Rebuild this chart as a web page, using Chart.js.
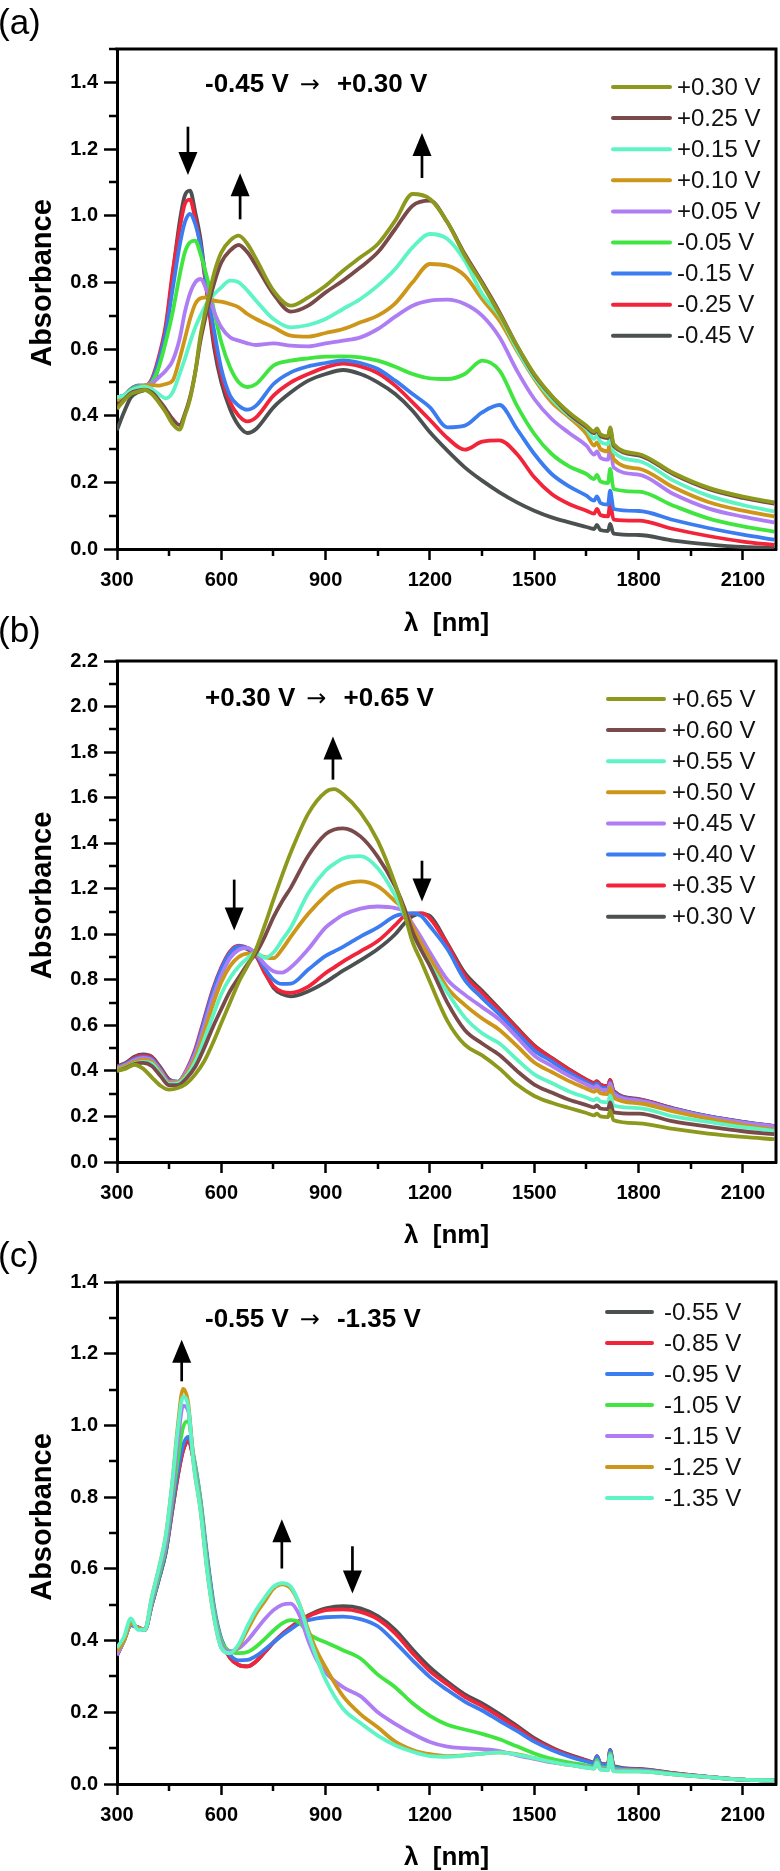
<!DOCTYPE html>
<html><head><meta charset="utf-8">
<script src="https://cdn.jsdelivr.net/npm/chart.js@4.4.1/dist/chart.umd.min.js"></script>
<style>
html,body{margin:0;padding:0;background:#fff;width:780px;height:1871px;overflow:hidden;}
canvas{position:absolute;left:0;}
</style></head><body>
<canvas id="ca" width="780" height="645" style="top:0px"></canvas>
<canvas id="cb" width="780" height="646" style="top:612px"></canvas>
<canvas id="cc" width="780" height="638" style="top:1233px"></canvas>
<script>
// ---------- shared ticks ----------
const xTickValues = [300, 600, 900, 1200, 1500, 1800, 2100];
const xMinorTicks = [450, 750, 1050, 1350, 1650, 1950];
const yTicksA = [0, 0.2, 0.4, 0.6, 0.8, 1.0, 1.2, 1.4];
const yMinorA = [0.1, 0.3, 0.5, 0.7, 0.9, 1.1, 1.3, 1.5];
const yTicksB = [0, 0.2, 0.4, 0.6, 0.8, 1.0, 1.2, 1.4, 1.6, 1.8, 2.0, 2.2];
const yMinorB = [0.1, 0.3, 0.5, 0.7, 0.9, 1.1, 1.3, 1.5, 1.7, 1.9, 2.1];
const yTicksC = [0, 0.2, 0.4, 0.6, 0.8, 1.0, 1.2, 1.4];
const yMinorC = [0.1, 0.3, 0.5, 0.7, 0.9, 1.1, 1.3];

// ---------- panel (a) ----------
const nmA = [300,320,340,360,380,400,420,440,460,480,495,510,525,540,560,580,600,625,650,675,700,750,800,850,900,950,1000,1050,1100,1150,1200,1250,1300,1350,1400,1450,1500,1550,1600,1650,1672,1680,1690,1712,1718,1728,1800,1900,2000,2100,2190];
const a_p030 = [.42,.445,.465,.472,.477,.465,.44,.41,.375,.358, .40,.45,.53,.64, .74,.83,.89, .925,.94,.915,.87, .775,.73,.755,.79,.835,.875,.915,.985,1.065,1.05,.98,.88,.795,.705,.61,.525,.46,.41,.37, .352,.362,.344,.338,.365,.315, .285,.228,.184,.157,.14];
const a_p025 = [.43,.448,.468,.475,.478,.47,.448,.42,.39,.372, .405,.455,.53,.625, .72,.80,.86, .895,.912,.89,.85, .765,.712,.73,.77,.805,.845,.89,.96,1.03,1.045,.98,.885,.80,.71,.61,.522,.458,.405,.365, .347,.357,.339,.333,.36,.31, .281,.224,.18,.153,.136];
const a_p015 = [.455,.46,.475,.483,.487,.48,.465,.452,.47,.525, .57,.62,.665,.70, .74,.765,.785, .805,.80,.775,.745, .69,.665,.672,.69,.72,.75,.79,.84,.905,.945,.93,.865,.765,.70,.60,.515,.45,.40,.36, .33,.34,.322,.315,.345,.292, .264,.205,.16,.132,.113];
const a_p010 = [.445,.452,.47,.482,.49,.492,.49,.495,.505,.57, .63,.69,.735,.752, .755,.745,.742, .735,.725,.705,.69, .665,.64,.637,.648,.66,.68,.70,.737,.80,.855,.85,.82,.75,.685,.595,.51,.44,.395,.345, .31,.32,.30,.293,.33,.27, .241,.185,.141,.115,.098];
const a_p005 = [.452,.458,.475,.485,.49,.497,.515,.535,.565,.63, .71,.767,.80,.81, .77,.71,.665, .635,.625,.617,.612, .617,.61,.608,.617,.625,.635,.66,.697,.73,.745,.748,.735,.70,.635,.535,.45,.39,.348,.31, .283,.293,.274,.268,.305,.245, .223,.165,.122,.097,.08];
const a_m005 = [.455,.46,.478,.488,.49,.50,.545,.62,.71,.82, .89,.92,.925,.885, .81,.71,.62, .545,.50,.486,.495, .55,.565,.572,.577,.578,.575,.565,.547,.525,.512,.51,.525,.565,.535,.43,.345,.285,.248,.225, .21,.222,.203,.198,.24,.18, .172,.13,.092,.068,.052];
const a_m015 = [.455,.46,.48,.49,.49,.505,.565,.65,.78,.91, .98,1.005,.975,.91, .78,.65,.54, .46,.43,.418,.43, .495,.53,.548,.558,.566,.558,.54,.505,.465,.425,.365,.37,.41,.432,.36,.285,.225,.188,.16, .145,.158,.138,.133,.175,.12, .114,.087,.063,.043,.028];
const a_m025 = [.455,.46,.48,.49,.49,.51,.575,.67,.83,.96, 1.035,1.048,.99,.91, .76,.62,.52, .44,.40,.383,.395, .46,.50,.525,.545,.556,.548,.528,.49,.44,.387,.333,.298,.322,.326,.285,.215,.165,.135,.115, .106,.12,.102,.098,.135,.088, .085,.06,.039,.022,.012];
const a_m045 = [.357,.41,.455,.47,.477,.49,.55,.655,.82,.98, 1.06,1.075,1.01,.93, .76,.60,.50, .42,.37,.348,.36, .425,.47,.505,.525,.537,.525,.50,.465,.415,.35,.295,.245,.205,.17,.14,.115,.095,.08,.066, .06,.072,.057,.054,.075,.046, .042,.025,.014,.006,.003];
const labelsA = ['+0.30 V','+0.25 V','+0.15 V','+0.10 V','+0.05 V','-0.05 V','-0.15 V','-0.25 V','-0.45 V'];
const arrowsA = [[504, 1.267, 1.122], [654, 0.989, 1.127], [1177, 1.113, 1.248]];
const noteA = ['-0.45 V', '\u2192', '+0.30 V', 553, 1.392];

// ---------- panel (b) ----------
const nmB = [300,325,350,375,400,425,450,475,500,525,550,575,600,625,650,675,700,725,750,775,800,850,900,925,950,1000,1050,1100,1125,1150,1175,1200,1250,1300,1350,1400,1450,1500,1550,1600,1650,1672,1680,1690,1712,1718,1728,1800,1900,2000,2100,2190];
const b_p065 = [.40,.41,.427,.41,.372,.335,.318,.325,.345,.385,.44,.52,.61,.70,.79,.86,.935,1.04,1.152,1.26,1.36, 1.53,1.625,1.637,1.615,1.535,1.41,1.22, 1.1,.965,.88,.79, .62,.515,.468,.41,.34,.29,.26,.237,.215, .205,.212,.20,.197,.225,.183, .17,.145,.125,.11,.10];
const b_p060 = [.40,.413,.43,.435,.422,.378,.337,.338,.368,.418,.498,.59,.672,.75,.81,.868,.918,.99,1.075,1.145,1.205, 1.345,1.44,1.46,1.465,1.43,1.34,1.21, 1.12,1.01,.93,.86, .70,.58,.52,.47,.40,.34,.305,.273,.25, .24,.248,.235,.232,.262,.218, .212,.178,.155,.135,.122];
const b_p055 = [.402,.415,.432,.44,.432,.385,.342,.345,.378,.44,.535,.638,.738,.808,.858,.895,.918,.897,.92,.975,1.03, 1.18,1.28,1.31,1.333,1.343,1.29,1.17, 1.09,1.0,.93,.865, .745,.635,.565,.52,.45,.385,.347,.31,.283, .271,.279,.266,.262,.292,.248, .237,.20,.176,.153,.137];
const b_p050 = [.408,.422,.44,.448,.44,.392,.347,.35,.388,.458,.568,.688,.79,.86,.90,.915,.912,.90,.895,.935,.99, 1.09,1.17,1.20,1.218,1.232,1.21,1.145, 1.11,1.035,.96,.895, .765,.69,.63,.58,.51,.437,.395,.355,.322, .308,.316,.302,.298,.328,.283, .258,.222,.19,.163,.142];
const b_p045 = [.412,.427,.447,.457,.447,.40,.352,.352,.398,.475,.595,.72,.82,.895,.932,.94,.915,.868,.838,.832,.855, .935,1.03,1.06,1.085,1.113,1.122,1.115, 1.10,1.045,.985,.92, .80,.735,.68,.625,.548,.468,.422,.378,.34, .326,.334,.319,.315,.345,.30, .27,.231,.198,.173,.156];
const b_p040 = [.415,.43,.452,.462,.452,.405,.355,.353,.40,.485,.615,.745,.848,.918,.947,.94,.91,.85,.80,.782,.783, .845,.905,.925,.945,.99,1.03,1.08, 1.09,1.093,1.08,1.035, .935,.80,.72,.648,.568,.49,.442,.392,.35, .336,.344,.329,.323,.35,.305, .272,.233,.20,.175,.157];
const b_p035 = [.418,.432,.458,.468,.458,.41,.358,.352,.405,.495,.625,.755,.855,.925,.95,.94,.905,.83,.772,.748,.743, .77,.83,.855,.88,.925,.97,1.04, 1.078,1.09,1.093,1.07, .955,.82,.742,.665,.585,.508,.455,.405,.36, .345,.353,.338,.332,.36,.31, .275,.235,.20,.175,.157];
const b_p030 = [.42,.435,.462,.472,.462,.415,.362,.352,.395,.475,.595,.725,.835,.91,.945,.935,.905,.835,.765,.737,.727, .75,.79,.815,.84,.885,.935,1.0, 1.045,1.08,1.09,1.08, .96,.83,.752,.672,.59,.512,.457,.407,.362, .347,.355,.34,.333,.36,.312, .276,.236,.201,.176,.158];
const labelsB = ['+0.65 V','+0.60 V','+0.55 V','+0.50 V','+0.45 V','+0.40 V','+0.35 V','+0.30 V'];
const arrowsB = [[637, 1.24, 1.017], [921, 1.679, 1.869], [1177, 1.323, 1.144]];
const noteB = ['+0.30 V', '\u2192', '+0.65 V', 553, 2.035];

// ---------- panel (c) ----------
const nmC = [300,320,340,360,380,400,420,440,460,475,490,505,520,540,560,580,600,625,650,675,700,725,750,775,800,825,850,875,900,950,1000,1050,1100,1150,1200,1250,1300,1350,1400,1450,1500,1550,1600,1650,1672,1680,1690,1712,1718,1728,1800,1900,2000,2100,2190];
const c_m055 = [.358,.40,.443,.437,.43,.50,.57,.645,.77, .86,.93,.955,.905, .78,.62,.48,.40, .352,.332,.328,.342,.368,.395,.418,.437,.455,.47,.482,.49, .496,.49,.468,.43,.375,.325,.285,.25,.225,.195,.162,.128,.102,.082,.066, .06,.078,.058,.055,.095,.05, .042,.03,.02,.012,.01];
const c_m085 = [.36,.40,.443,.437,.43,.50,.57,.645,.77, .86,.93,.958,.905, .78,.62,.48,.40, .352,.332,.328,.342,.368,.395,.418,.437,.455,.468,.478,.485, .487,.48,.46,.42,.365,.315,.278,.243,.218,.188,.157,.124,.10,.08,.065, .059,.077,.057,.054,.094,.049, .041,.03,.02,.012,.01];
const c_m095 = [.36,.40,.443,.437,.43,.50,.57,.648,.78, .875,.945,.968,.915, .795,.63,.49,.405, .36,.345,.346,.357,.375,.395,.415,.432,.448,.457,.462,.465, .467,.46,.44,.395,.345,.298,.262,.23,.205,.176,.148,.118,.095,.077,.063, .058,.076,.056,.053,.093,.048, .04,.029,.02,.012,.01];
const c_m105 = [.365,.40,.447,.435,.43,.505,.578,.66,.80, .905,.995,1.012,.915, .79,.615,.48,.40, .37,.365,.368,.383,.405,.428,.448,.457,.45,.42,.405,.395, .373,.35,.305,.27,.225,.19,.165,.152,.14,.125,.105,.085,.07,.06,.052, .049,.067,.047,.045,.085,.042, .038,.028,.019,.012,.01];
const c_m115 = [.36,.40,.448,.435,.43,.51,.59,.67,.82, .955,1.055,1.04,.905, .775,.60,.47,.39, .37,.378,.40,.43,.46,.485,.50,.503,.47,.40,.345,.31, .27,.245,.20,.168,.14,.117,.104,.10,.097,.092,.08,.07,.06,.054,.048, .046,.063,.044,.042,.082,.039, .037,.027,.019,.012,.01];
const c_m125 = [.37,.40,.45,.435,.43,.52,.60,.69,.85, 1.0,1.102,1.06,.895, .765,.59,.46,.38, .365,.385,.43,.475,.51,.545,.557,.545,.50,.43,.37,.325, .245,.195,.158,.118,.095,.083,.078,.08,.085,.088,.083,.072,.062,.053,.046, .043,.06,.041,.039,.08,.036, .035,.027,.019,.012,.01];
const c_m135 = [.38,.41,.462,.43,.43,.52,.60,.69,.85, .99,1.08,1.05,.895, .765,.59,.46,.38, .365,.39,.44,.485,.52,.55,.56,.55,.50,.42,.35,.29, .21,.17,.135,.108,.09,.078,.076,.08,.085,.088,.082,.072,.062,.053,.046, .043,.06,.041,.039,.08,.036, .035,.027,.019,.012,.01];
const labelsC = ['-0.55 V','-0.85 V','-0.95 V','-1.05 V','-1.15 V','-1.25 V','-1.35 V'];
const arrowsC = [[486, 1.123, 1.239], [774, 0.601, 0.738], [977, 0.663, 0.531]];
const noteC = ['-0.55 V', '\u2192', '-1.35 V', 553, 1.295];

// ---------- styles ----------
const COL = {olive:'#8c991c', brown:'#7a4a4a', aqua:'#5ef4c6', gold:'#cd9619', purple:'#ae7df3', green:'#40e540', blue:'#3b7cf0', red:'#f1243a', gray:'#4b5050'};
const FONT = "'Liberation Sans', Arial, Helvetica, sans-serif";

const decoPlugin = {
  id: 'deco',
  afterDatasetsDraw(chart, args, o) {
    const {ctx, chartArea: ca} = chart;
    const xs = chart.scales.x, ys = chart.scales.y;
    ctx.save();
    ctx.strokeStyle = '#000'; ctx.fillStyle = '#000';
    // minor ticks
    ctx.lineWidth = 2.5;
    ctx.beginPath();
    o.xMinor.forEach(v => { const p = Math.round(xs.getPixelForValue(v)); ctx.moveTo(p, ca.bottom); ctx.lineTo(p, ca.bottom + 7); });
    o.yMinor.forEach(v => { if (v > ys.max) return; const p = Math.round(ys.getPixelForValue(v)); ctx.moveTo(ca.left, p); ctx.lineTo(ca.left - 8, p); });
    ctx.stroke();
    // top / right frame
    ctx.lineWidth = 3;
    ctx.beginPath();
    ctx.moveTo(ca.left - 1.5, ca.top); ctx.lineTo(ca.right, ca.top); ctx.lineTo(ca.right, ca.bottom + 1.5);
    ctx.stroke();
    // arrows
    o.arrows.forEach(([xv, from, to]) => {
      const px = xs.getPixelForValue(xv), y0 = ys.getPixelForValue(from), y1 = ys.getPixelForValue(to);
      const dir = y1 > y0 ? 1 : -1, hl = 23, hw = 9.5;
      ctx.lineWidth = 2.7;
      ctx.beginPath(); ctx.moveTo(px, y0); ctx.lineTo(px, y1 - dir * (hl - 2)); ctx.stroke();
      ctx.beginPath(); ctx.moveTo(px, y1); ctx.lineTo(px - hw, y1 - dir * hl); ctx.lineTo(px + hw, y1 - dir * hl); ctx.closePath(); ctx.fill();
    });
    // annotation  (text, arrow glyph, text)
    const [t1, arr, t2, nx, ny] = o.note;
    let tx = xs.getPixelForValue(nx);
    const ty = ys.getPixelForValue(ny);
    ctx.textAlign = 'left'; ctx.textBaseline = 'middle';
    ctx.font = 'bold 26px ' + FONT;
    ctx.fillText(t1, tx, ty);
    tx += ctx.measureText(t1).width + 11;
    ctx.font = "24px 'DejaVu Sans', sans-serif";
    ctx.fillText(arr, tx, ty + 1);
    tx += ctx.measureText(arr).width + 17;
    ctx.font = 'bold 26px ' + FONT;
    ctx.fillText(t2, tx, ty);
    // legend
    const L = o.legend;
    ctx.font = '24px ' + FONT;
    chart.data.datasets.forEach((ds, i) => {
      const yy = ca.top + L.y0 + i * L.dy;
      ctx.strokeStyle = ds.borderColor; ctx.lineWidth = 4; ctx.lineCap = 'round';
      ctx.beginPath(); ctx.moveTo(L.x0, yy); ctx.lineTo(L.x1, yy); ctx.stroke();
      ctx.fillStyle = '#111';
      ctx.fillText(ds.label, L.tx, yy + 1);
    });
    ctx.lineCap = 'butt';
    // axis titles
    ctx.fillStyle = '#000';
    ctx.textAlign = 'center';
    ctx.font = 'bold 26px ' + FONT;
    ctx.fillText('\u03bb  [nm]', (ca.left + ca.right) / 2, ca.bottom + o.xTitleOff);
    ctx.save();
    ctx.translate(43, (ca.top + ca.bottom) / 2 - 16);
    ctx.rotate(-Math.PI / 2);
    ctx.font = 'bold 29px ' + FONT;
    ctx.fillText('Absorbance', 0, 0);
    ctx.restore();
    // panel tag
    ctx.textAlign = 'left';
    ctx.font = '35px ' + FONT;
    ctx.fillText(o.tag, -2, o.tagY);
    ctx.restore();
  }
};

function makePanel(id, nm, series, labels, colors, orders, ymax, yTicks, yMinor, xh, extra) {
  return new Chart(document.getElementById(id), {
    type: 'line',
    data: {
      datasets: series.map((vals, i) => ({
        label: labels[i],
        data: nm.map((w, k) => ({x: w, y: vals[k]})),
        borderColor: colors[i], backgroundColor: colors[i],
        borderWidth: 3.8, pointRadius: 0, fill: false,
        cubicInterpolationMode: 'monotone', order: orders[i]
      }))
    },
    options: {
      responsive: false, animation: false, devicePixelRatio: 1,
      events: [],
      layout: {padding: {left: 0, right: 4, top: 49, bottom: 0}},
      plugins: {legend: {display: false}, tooltip: {enabled: false},
        deco: Object.assign({xMinor: xMinorTicks, yMinor: yMinor}, extra)},
      scales: {
        x: {
          type: 'linear', min: 300, max: 2195,
          afterFit: s => { s.height = xh; },
          afterBuildTicks: s => { s.ticks = xTickValues.map(v => ({value: v})); },
          ticks: {autoSkip: false, maxRotation: 0, padding: 8, color: '#000',
                  font: {family: FONT, size: 20, weight: 'bold'}, callback: v => String(v)},
          grid: {display: true, drawOnChartArea: false, drawTicks: true, tickLength: 11, tickWidth: 2.5, tickColor: '#000'},
          border: {display: true, color: '#000', width: 3}
        },
        y: {
          type: 'linear', min: 0, max: ymax,
          afterFit: s => { s.width = 117; },
          afterBuildTicks: s => { s.ticks = yTicks.map(v => ({value: v})); },
          ticks: {autoSkip: false, padding: 6, color: '#000',
                  font: {family: FONT, size: 20, weight: 'bold'}, callback: v => Number(v).toFixed(1)},
          grid: {display: true, drawOnChartArea: false, drawTicks: true, tickLength: 13, tickWidth: 2.5, tickColor: '#000'},
          border: {display: true, color: '#000', width: 3}
        }
      }
    },
    plugins: [decoPlugin]
  });
}

makePanel('ca', nmA,
  [a_p030, a_p025, a_p015, a_p010, a_p005, a_m005, a_m015, a_m025, a_m045], labelsA,
  [COL.olive, COL.brown, COL.aqua, COL.gold, COL.purple, COL.green, COL.blue, COL.red, COL.gray],
  [0,1,2,3,4,5,6,7,8], 1.5, yTicksA, yMinorA, 96,
  {arrows: arrowsA, note: noteA, legend: {x0: 613, x1: 670, tx: 677, y0: 38, dy: 31.1}, xTitleOff: 75, tag: '(a)', tagY: 24});

makePanel('cb', nmB,
  [b_p065, b_p060, b_p055, b_p050, b_p045, b_p040, b_p035, b_p030], labelsB,
  [COL.olive, COL.brown, COL.aqua, COL.gold, COL.purple, COL.blue, COL.red, COL.gray],
  [0,1,2,3,4,5,6,7], 2.2, yTicksB, yMinorB, 96,
  {arrows: arrowsB, note: noteB, legend: {x0: 608, x1: 664, tx: 672, y0: 38, dy: 31.1}, xTitleOff: 74, tag: '(b)', tagY: 20});

makePanel('cc', nmC,
  [c_m055, c_m085, c_m095, c_m105, c_m115, c_m125, c_m135], labelsC,
  [COL.gray, COL.red, COL.blue, COL.green, COL.purple, COL.gold, COL.aqua],
  [6,5,4,3,2,1,0], 1.4, yTicksC, yMinorC, 87,
  {arrows: arrowsC, note: noteC, legend: {x0: 607, x1: 652, tx: 664, y0: 30, dy: 31}, xTitleOff: 74, tag: '(c)', tagY: 24});
</script>
</body></html>
